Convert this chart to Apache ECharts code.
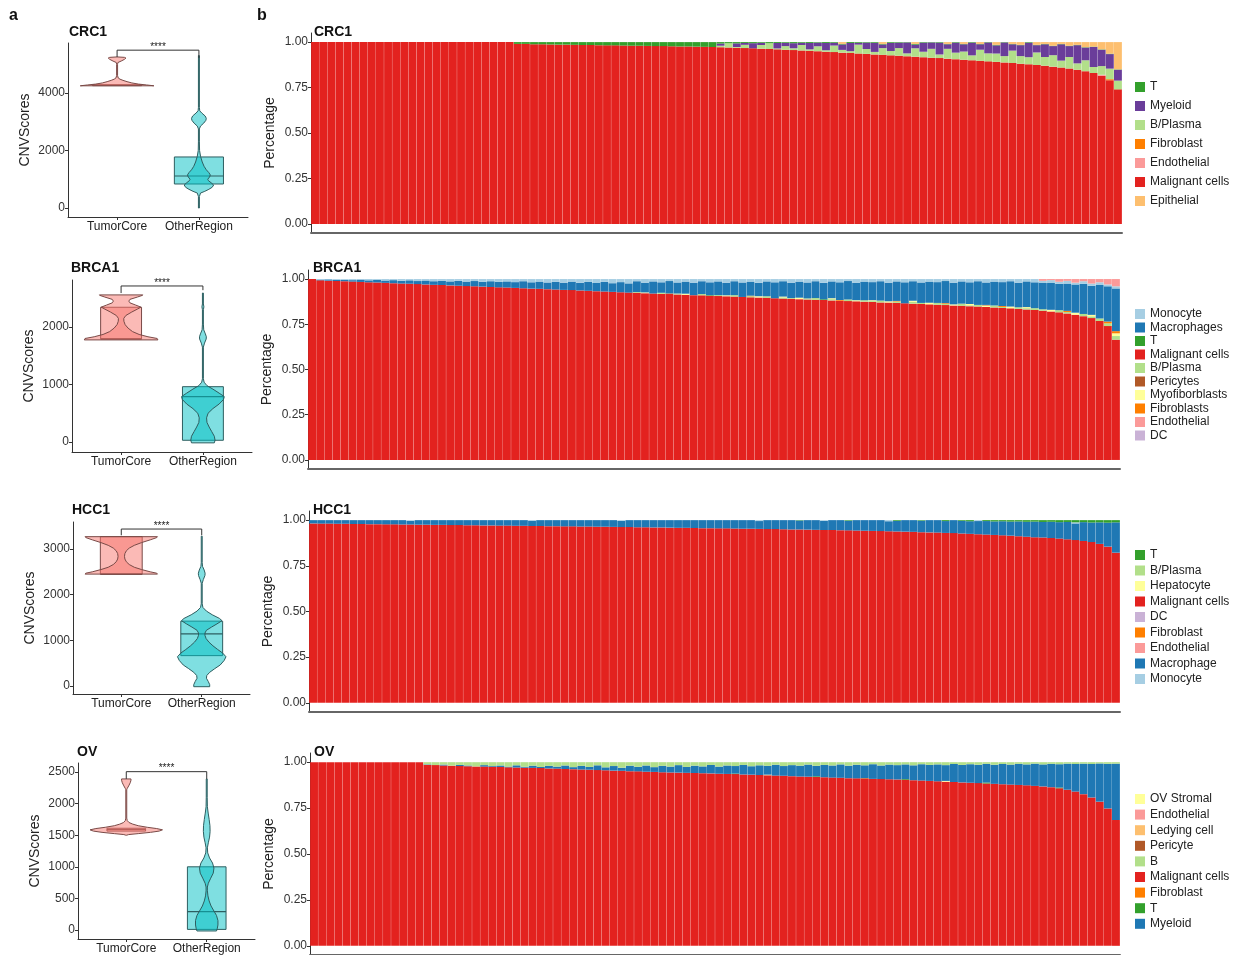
<!DOCTYPE html>
<html><head><meta charset="utf-8">
<script src="https://cdn.jsdelivr.net/npm/echarts@6/dist/echarts.min.js"></script>
<style>html,body{margin:0;padding:0;background:#fff}#c{width:1240px;height:955px}</style>
</head><body><div id="c"></div>
<script>
const FONT = '"Liberation Sans", Arial, Helvetica, sans-serif';
const groups = ['TumorCore', 'OtherRegion'];
const percentTicks = [0, 0.25, 0.5, 0.75, 1];

// ---------- panel a : violin densities [CNVScore, scaled density] ----------
const crcTumorDensity = [[4250,1],[4280,.8],[4310,.58],[4350,.4],[4395,.27],[4440,.16],[4480,.08],[4520,.033],[4600,.013],[5000,.013],[5060,.022],[5110,.11],[5170,.2],[5215,.24],[5240,.2],[5255,0]];
const crcOtherDensity = [[0,.013],[400,.013],[520,.044],[580,.16],[650,.27],[720,.36],[800,.4],[880,.33],[950,.26],[1000,.24],[1080,.29],[1150,.31],[1230,.27],[1330,.2],[1450,.14],[1600,.09],[1800,.044],[2000,.018],[2300,.013],[2750,.013],[2850,.044],[2950,.13],[3050,.19],[3120,.2],[3200,.17],[3300,.08],[3380,.022],[3500,.013],[5300,.013]];
const crcBoxStats = [[4255,4270,4290],[835,1113,1775]];
const crcBracket = [5250,5490,5220];

const brcaTumorDensity = [[1775,1],[1800,.98],[1830,.73],[1870,.49],[1920,.31],[1980,.19],[2040,.11],[2100,.076],[2150,.073],[2200,.13],[2260,.29],[2310,.44],[2345,.54],[2380,.4],[2420,.24],[2450,.21],[2480,.24],[2520,.44],[2550,.58],[2558,.59]];
const brcaOtherDensity = [[-15,.31],[30,.33],[100,.31],[180,.24],[260,.17],[340,.11],[420,.1],[500,.14],[580,.27],[660,.44],[740,.56],[790,.58],[850,.44],[920,.27],[980,.11],[1040,.033],[1100,.013],[1650,.013],[1720,.044],[1790,.089],[1830,.093],[1880,.067],[1950,.022],[2050,.013],[2300,.013],[2350,.027],[2400,.013],[2590,.013]];
const brcaBoxStats = [[1786,1800,2343],[30,790,962]];
const brcaBracket = [2590,2713,2640];

const hccTumorDensity = [[2450,1],[2470,.98],[2500,.8],[2550,.56],[2600,.36],[2660,.22],[2720,.14],[2780,.1],[2840,.089],[2900,.1],[2960,.14],[3020,.22],[3080,.36],[3140,.56],[3200,.8],[3250,.98],[3270,1]];
const hccOtherDensity = [[-15,.22],[30,.22],[100,.18],[170,.13],[230,.14],[300,.22],[380,.36],[460,.51],[560,.62],[640,.67],[720,.58],[800,.44],[880,.31],[960,.2],[1040,.12],[1110,.089],[1160,.089],[1220,.13],[1290,.27],[1360,.42],[1430,.56],[1480,.49],[1560,.29],[1640,.13],[1720,.033],[1800,.013],[2250,.013],[2330,.044],[2420,.089],[2470,.093],[2540,.067],[2620,.022],[2700,.013],[3280,.013]];
const hccBoxStats = [[2450,2450,3270],[665,1140,1420]];
const hccBracket = [3300,3437,3300];

const ovTumorDensity = [[1500,.013],[1510,.067],[1525,.33],[1545,.67],[1565,.91],[1585,1],[1605,.84],[1625,.58],[1650,.33],[1675,.18],[1700,.078],[1730,.027],[1770,.013],[2220,.013],[2240,.027],[2280,.067],[2330,.11],[2370,.13],[2390,.13]];
const ovOtherDensity = [[-15,.27],[20,.29],[80,.31],[150,.31],[230,.27],[300,.2],[380,.12],[460,.067],[540,.033],[620,.018],[680,.018],[740,.044],[820,.11],[900,.18],[980,.2],[1060,.16],[1140,.078],[1220,.027],[1300,.018],[1380,.044],[1470,.078],[1560,.093],[1650,.089],[1750,.067],[1850,.04],[1950,.018],[2100,.013],[2390,.013]];
const ovBoxStats = [[1565,1590,1610],[10,290,1000]];
const ovBracket = [2390,2505,2390];

// ---------- panel b : cell-type proportions per spot ----------
const crcMalignant = [
1,1,1,1,1,1,1,1,1,1,
1,1,1,1,1,1,1,1,1,1,
1,1,1,1,1,.99,.99,.988,.988,.987,
.986,.986,.985,.984,.984,.983,.982,.982,.981,.98,
.98,.979,.978,.978,.977,.976,.976,.975,.974,.973,
.972,.97,.969,.967,.966,.964,.962,.96,.958,.956,
.954,.952,.95,.947,.945,.942,.94,.937,.935,.932,
.93,.927,.925,.922,.92,.917,.914,.912,.909,.906,
.903,.9,.897,.894,.891,.888,.885,.881,.878,.874,
.87,.865,.86,.855,.848,.84,.83,.815,.79,.74];
const crcT = [
0,0,0,0,0,0,0,0,0,0,
0,0,0,0,0,0,0,0,0,0,
0,0,0,0,0,.01,.01,.012,.012,.013,
.014,.014,.015,.016,.016,.017,.018,.018,.019,.02,
.02,.021,.022,.022,.023,.024,.024,.025,.026,.027,
.008,.006,.007,.005,.006,.004,.006,.005,.004,.006,
.004,.005,.003,.005,.004,.003,.005,.004,.003,.004,
.003,.004,.003,.002,.004,.003,.002,.003,.002,.003,
.002,.003,.002,.002,.003,.002,.002,.002,.003,.002,
.002,.002,.002,.002,.002,.002,.002,.002,.002,.002];
const crcMyeloid = [
0,0,0,0,0,0,0,0,0,0,
0,0,0,0,0,0,0,0,0,0,
0,0,0,0,0,0,0,0,0,0,
0,0,0,0,0,0,0,0,0,0,
0,0,0,0,0,0,0,0,0,0,
.012,0,.02,.01,.028,.012,0,.03,.018,.028,
.012,.035,.02,.04,.015,.03,.045,.01,.035,.05,
.02,.045,.03,.06,.02,.05,.035,.065,.025,.055,
.04,.07,.03,.06,.045,.075,.035,.06,.08,.04,
.07,.05,.09,.06,.1,.07,.11,.09,.08,.06];
const crcBPlasma = [
0,0,0,0,0,0,0,0,0,0,
0,0,0,0,0,0,0,0,0,0,
0,0,0,0,0,0,0,0,0,0,
0,0,0,0,0,0,0,0,0,0,
0,0,0,0,0,0,0,0,0,0,
.008,.024,.004,.018,0,.02,.032,.005,.02,.01,
.03,.008,.027,.008,.036,.015,.01,.049,.027,.014,
.037,.024,.042,.016,.046,.03,.049,.02,.054,.036,
.045,.027,.061,.044,.046,.035,.068,.042,.039,.069,
.048,.063,.038,.063,.035,.06,.033,.048,.058,.048];
const crcEpithelial = [
0,0,0,0,0,0,0,0,0,0,
0,0,0,0,0,0,0,0,0,0,
0,0,0,0,0,0,0,0,0,0,
0,0,0,0,0,0,0,0,0,0,
0,0,0,0,0,0,0,0,0,0,
0,0,0,0,0,0,0,0,0,0,
0,0,0,0,0,.01,0,0,0,0,
.01,0,0,0,.01,0,0,0,.01,0,
.01,0,.01,0,.015,0,.01,.015,0,.015,
.01,.02,.01,.02,.015,.028,.025,.04,.064,.15];
const crcEndothelial = [
0,0,0,0,0,0,0,0,0,0,
0,0,0,0,0,0,0,0,0,0,
0,0,0,0,0,0,0,0,0,0,
0,0,0,0,0,0,0,0,0,0,
0,0,0,0,0,0,0,0,0,0,
0,0,0,0,0,0,0,0,0,0,
0,0,0,0,0,0,0,0,0,0,
0,0,0,0,0,0,0,0,0,0,
0,0,0,0,0,0,0,0,0,0,
0,0,0,0,0,0,0,.005,0,0];
const crcFibroblast = [
0,0,0,0,0,0,0,0,0,0,
0,0,0,0,0,0,0,0,0,0,
0,0,0,0,0,0,0,0,0,0,
0,0,0,0,0,0,0,0,0,0,
0,0,0,0,0,0,0,0,0,0,
0,0,0,0,0,0,0,0,0,0,
0,0,0,0,0,0,0,0,0,0,
0,0,0,0,0,0,0,0,0,0,
0,0,0,0,0,0,0,0,0,0,
0,0,0,0,0,0,0,0,.006,0];

const brcaMalignant = [
1,.993,.991,.989,.988,.986,.984,.982,.981,.979,
.977,.975,.974,.972,.97,.968,.967,.965,.963,.961,
.96,.958,.956,.954,.953,.951,.949,.947,.946,.944,
.942,.94,.939,.937,.935,.933,.931,.929,.927,.925,
.924,.922,.92,.918,.917,.915,.913,.911,.91,.908,
.906,.905,.903,.901,.899,.898,.896,.894,.892,.891,
.889,.887,.885,.884,.882,.88,.878,.877,.875,.873,
.871,.87,.868,.866,.864,.862,.86,.858,.856,.854,
.852,.85,.848,.846,.843,.84,.838,.835,.832,.829,
.825,.821,.816,.81,.803,.795,.784,.768,.74,.665];
const brcaMonocyte = [
0,.003,.002,.005,.004,.006,.003,.007,.005,.008,
.006,.01,.007,.011,.008,.012,.009,.013,.01,.014,
.011,.015,.012,.016,.013,.017,.012,.018,.014,.019,
.015,.02,.014,.021,.016,.022,.015,.023,.017,.024,
.012,.02,.013,.018,.011,.019,.014,.02,.012,.018,
.013,.02,.012,.019,.014,.021,.013,.018,.012,.02,
.014,.019,.012,.021,.013,.018,.011,.02,.014,.017,
.012,.02,.013,.018,.012,.019,.014,.017,.011,.02,
.013,.018,.012,.019,.014,.017,.012,.02,.013,.018,
.012,.016,.011,.015,.01,.014,.012,.015,.01,.012];
const brcaMacrophages = [
0,.004,.007,.006,.008,.008,.013,.011,.014,.013,
.017,.015,.019,.017,.022,.02,.024,.022,.027,.025,
.029,.027,.032,.03,.034,.032,.039,.035,.04,.037,
.043,.04,.047,.042,.049,.045,.054,.048,.056,.051,
.06,.054,.067,.058,.069,.061,.067,.069,.071,.071,
.076,.07,.077,.08,.078,.074,.082,.088,.085,.085,
.089,.088,.093,.091,.093,.098,.102,.097,.103,.1,
.107,.103,.108,.116,.108,.113,.117,.115,.122,.12,
.123,.12,.131,.124,.132,.132,.14,.136,.142,.143,
.145,.148,.146,.151,.156,.167,.161,.185,.195,.236];
const brcaT = [
0,0,0,0,0,0,0,0,0,0,
0,0,0,0,0,0,0,0,0,0,
0,0,0,0,0,0,0,0,0,0,
0,0,0,0,0,0,0,0,0,0,
0,0,0,0,0,0,0,0,0,.003,
0,0,0,0,0,0,0,0,0,0,
0,0,0,.004,0,0,0,0,0,0,
0,0,0,0,0,0,0,0,0,0,
0,0,0,0,0,0,0,0,0,0,
0,0,0,0,0,0,0,0,0,0];
const brcaBPlasma = [
0,0,0,0,0,0,0,0,0,0,
0,0,0,0,0,0,0,0,0,0,
0,0,0,0,0,0,0,0,0,0,
0,0,0,0,0,0,0,0,0,0,
.004,0,0,.006,0,.005,0,0,.007,0,
.005,0,.008,0,.006,0,.009,0,.007,.004,
0,.006,.01,0,.007,0,.009,0,.008,.005,
.01,0,.008,0,.011,.006,0,.01,.007,0,
.012,.005,.009,0,.011,.006,0,.009,.007,.01,
.008,0,.012,.008,0,.012,.01,.014,.015,.02];
const brcaPericytes = [
0,0,0,0,0,0,0,0,0,0,
0,0,0,0,0,0,0,0,0,0,
0,0,0,0,0,0,0,0,0,0,
0,0,0,0,0,0,0,0,0,0,
0,0,0,0,0,0,0,0,0,0,
0,0,0,0,0,0,0,0,0,0,
0,0,0,0,0,0,0,0,0,0,
0,0,0,0,0,0,0,0,0,0,
0,0,0,.003,0,0,0,0,0,0,
0,0,0,0,0,0,0,0,0,0];
const brcaMyofib = [
0,0,0,0,0,0,0,0,0,0,
0,0,0,0,0,0,0,0,0,0,
0,0,0,0,0,0,0,0,0,0,
0,0,0,0,0,0,0,0,0,0,
0,.004,0,0,0,0,.006,0,0,0,
0,.005,0,0,0,.007,0,0,.004,0,
.008,0,0,0,.005,0,0,.006,0,.005,
0,.007,0,0,.005,0,.009,0,0,.006,
0,.007,0,.008,0,0,.01,0,.006,0,
0,.009,0,0,.011,0,.008,0,0,.015];
const brcaFibroblasts = [
0,0,0,0,0,0,0,0,0,0,
0,0,0,0,0,0,0,0,0,0,
0,0,0,0,0,0,0,0,0,0,
0,0,0,0,0,0,0,0,0,0,
0,0,0,0,.003,0,0,0,0,0,
0,0,0,0,.003,0,0,0,0,0,
0,0,0,0,0,.004,0,0,0,0,
0,0,.003,0,0,0,0,0,.004,0,
0,0,0,0,0,.005,0,0,0,0,
0,0,0,.006,0,0,0,0,.01,.012];
const brcaEndothelial = [
0,0,0,0,0,0,0,0,0,0,
0,0,0,0,0,0,0,0,0,0,
0,0,0,0,0,0,0,0,0,0,
0,0,0,0,0,0,0,0,0,0,
0,0,0,0,0,0,0,0,0,0,
0,0,0,0,0,0,0,0,0,0,
0,0,0,0,0,0,0,0,0,0,
0,0,0,0,0,0,0,0,0,0,
0,0,0,0,0,0,0,0,0,0,
.01,.006,.015,.01,.02,.012,.025,.018,.03,.04];
const brcaDC = [];

const hccMalignant = [
.982,.981,.981,.98,.98,.979,.979,.978,.978,.977,
.977,.976,.976,.975,.975,.974,.974,.973,.973,.972,
.972,.971,.971,.97,.97,.969,.969,.968,.968,.967,
.967,.966,.966,.965,.965,.964,.964,.963,.962,.962,
.961,.961,.96,.96,.959,.958,.958,.957,.956,.956,
.955,.955,.954,.953,.953,.952,.951,.951,.95,.949,
.949,.948,.947,.946,.946,.945,.944,.943,.942,.941,
.94,.939,.938,.937,.936,.934,.933,.932,.93,.929,
.927,.925,.923,.921,.919,.917,.915,.912,.909,.906,
.905,.902,.899,.895,.891,.886,.88,.87,.855,.822];
const hccMacrophage = [
.018,.019,.019,.02,.02,.021,.021,.022,.022,.023,
.023,.024,.02,.025,.025,.026,.026,.027,.027,.028,
.028,.029,.029,.03,.03,.031,.031,.029,.032,.033,
.033,.034,.034,.035,.035,.036,.036,.037,.034,.038,
.039,.039,.04,.04,.041,.042,.042,.043,.044,.044,
.045,.045,.046,.047,.047,.043,.049,.049,.05,.051,
.049,.052,.053,.05,.054,.055,.053,.057,.058,.059,
.06,.055,.058,.063,.064,.063,.067,.068,.065,.071,
.069,.069,.072,.074,.074,.077,.077,.081,.082,.086,
.085,.089,.09,.095,.091,.103,.107,.118,.131,.166];
const hccMonocyte = [
0,0,0,0,0,0,0,0,0,0,
0,0,.004,0,0,0,0,0,0,0,
0,0,0,0,0,0,0,.003,0,0,
0,0,0,0,0,0,0,0,.004,0,
0,0,0,0,0,0,0,0,0,0,
0,0,0,0,0,.005,0,0,0,0,
0,0,0,.004,0,0,0,0,0,0,
0,.006,0,0,0,0,0,0,0,0,
0,0,.005,0,0,0,0,0,0,0,
0,0,0,0,.006,0,0,0,0,0];
const hccT = [
0,0,0,0,0,0,0,0,0,0,
0,0,0,0,0,0,0,0,0,0,
0,0,0,0,0,0,0,0,0,0,
0,0,0,0,0,0,0,0,0,0,
0,0,0,0,0,0,0,0,0,0,
0,0,0,0,0,0,0,0,0,0,
.002,0,0,0,0,0,.003,0,0,0,
0,0,.004,0,0,.003,0,0,.005,0,
.004,.006,0,.005,.007,.006,.008,.007,.009,.008,
.01,.009,.011,.01,.012,.011,.013,.012,.014,.012];
const hccBPlasma = [], hccHepatocyte = [], hccDC = [], hccFibroblast = [], hccEndothelial = [];

const ovMalignant = [
1,1,1,1,1,1,1,1,1,1,
1,1,1,1,.985,.984,.982,.981,.979,.978,
.977,.976,.975,.974,.972,.971,.97,.969,.968,.966,
.965,.963,.962,.96,.959,.957,.956,.954,.953,.951,
.95,.948,.947,.945,.944,.943,.942,.941,.94,.939,
.937,.936,.935,.933,.932,.93,.929,.927,.926,.924,
.922,.921,.919,.918,.916,.915,.913,.912,.91,.909,
.908,.907,.906,.904,.902,.9,.898,.896,.894,.892,
.89,.888,.886,.884,.882,.88,.878,.876,.874,.871,
.868,.864,.858,.85,.84,.826,.808,.785,.748,.685];
const ovB = [
0,0,0,0,0,0,0,0,0,0,
0,0,0,0,.012,.016,.013,.019,.015,.018,
.023,.016,.021,.018,.024,.017,.025,.019,.026,.02,
.024,.018,.027,.02,.026,.017,.028,.021,.03,.019,
.025,.018,.027,.02,.024,.016,.026,.019,.023,.015,
.024,.018,.021,.015,.022,.017,.02,.014,.021,.016,
.019,.013,.02,.015,.018,.012,.019,.014,.017,.011,
.018,.013,.016,.012,.017,.011,.015,.012,.016,.01,
.015,.011,.014,.009,.014,.01,.013,.009,.012,.008,
.012,.009,.011,.008,.01,.008,.01,.007,.009,.008];
const ovMyeloid = [
0,0,0,0,0,0,0,0,0,0,
0,0,0,0,.003,0,.005,0,.006,.004,
0,.008,.004,.008,.004,.012,.005,.012,.006,.014,
.011,.019,.011,.02,.015,.026,.016,.025,.017,.03,
.025,.034,.026,.035,.032,.041,.032,.04,.037,.046,
.039,.046,.041,.052,.046,.053,.048,.059,.053,.06,
.059,.066,.057,.067,.066,.073,.068,.074,.069,.08,
.074,.08,.078,.08,.081,.089,.087,.092,.086,.098,
.095,.101,.1,.102,.104,.11,.109,.115,.114,.121,
.12,.127,.127,.142,.15,.166,.182,.208,.243,.307];
const ovT = [
0,0,0,0,0,0,0,0,0,0,
0,0,0,0,0,0,0,0,0,0,
0,0,0,0,0,0,0,0,0,0,
0,0,0,0,0,0,0,0,0,0,
0,0,0,0,0,0,0,0,0,0,
0,0,.003,0,0,0,0,0,0,0,
0,0,.004,0,0,0,0,0,0,0,
0,0,0,.004,0,0,0,0,0,0,
0,0,0,.005,0,0,0,0,0,0,
0,0,.004,0,0,0,0,0,0,0];
const ovStromal = [
0,0,0,0,0,0,0,0,0,0,
0,0,0,0,0,0,0,0,0,0,
0,0,0,0,0,0,0,0,0,0,
0,0,0,0,0,0,0,0,0,0,
0,0,0,0,0,0,0,0,0,0,
0,0,0,0,0,0,.003,0,0,0,
0,0,0,0,0,0,0,0,0,0,
0,0,0,0,0,0,0,0,.004,0,
0,0,0,0,0,0,0,0,0,0,
0,0,0,0,0,0,0,0,0,0];
const ovPericyte = [
0,0,0,0,0,0,0,0,0,0,
0,0,0,0,0,0,0,0,0,0,
0,0,0,0,0,0,0,0,0,0,
0,0,0,0,0,0,0,0,0,0,
0,0,0,0,0,0,0,0,0,0,
0,0,0,0,0,0,0,0,0,0,
0,0,0,0,0,0,0,0,.004,0,
0,0,0,0,0,0,0,0,0,0,
0,0,0,0,0,0,0,0,0,0,
0,0,0,0,0,0,0,0,0,0];
const ovEndothelial = [], ovLedying = [], ovFibroblast = [];

const spots = crcMalignant.map((v, i) => 'spot' + (i + 1));

// legend orders (as in figure)
const crcLegend = ['T','Myeloid','B/Plasma','Fibroblast','Endothelial','Malignant cells','Epithelial'];
const brcaLegend = ['Monocyte','Macrophages','T','Malignant cells','B/Plasma','Pericytes','Myofiborblasts','Fibroblasts','Endothelial','DC'];
const hccLegend = ['T','B/Plasma','Hepatocyte','Malignant cells','DC','Fibroblast','Endothelial','Macrophage','Monocyte'];
const ovLegend = ['OV Stromal','Endothelial','Ledying cell','Pericyte','B','Malignant cells','Fibroblast','T','Myeloid'];

// ---------- styles ----------
const RED = '#E3221F';
const COLORS = {
  crc: {'Malignant cells':RED,'T':'#33A02C','Myeloid':'#6A3D9A','B/Plasma':'#B2DF8A','Fibroblast':'#FF7F00','Endothelial':'#FB9A99','Epithelial':'#FDBF6F'},
  brca: {'Malignant cells':RED,'Monocyte':'#A6CEE3','Macrophages':'#1F78B4','T':'#33A02C','B/Plasma':'#B2DF8A','Pericytes':'#B15928','Myofiborblasts':'#FFFF99','Fibroblasts':'#FF7F00','Endothelial':'#FB9A99','DC':'#CAB2D6'},
  hcc: {'Malignant cells':RED,'T':'#33A02C','B/Plasma':'#B2DF8A','Hepatocyte':'#FFFF99','DC':'#CAB2D6','Fibroblast':'#FF7F00','Endothelial':'#FB9A99','Macrophage':'#1F78B4','Monocyte':'#A6CEE3'},
  ov: {'Malignant cells':RED,'OV Stromal':'#FFFF99','Endothelial':'#FB9A99','Ledying cell':'#FDBF6F','Pericyte':'#B15928','B':'#B2DF8A','Fibroblast':'#FF7F00','T':'#33A02C','Myeloid':'#1F78B4'}
};
const FILLS = ['rgba(248,118,109,0.5)', 'rgba(0,191,196,0.5)'];
const STROKES = ['#7a4a47', '#2d5e60'];
const VIOLIN_HALF = 0.45;

function makeViolin(densities, boxes, boxHalf) {
  return function (params, api) {
    const i = params.dataIndex, c = i + 1;
    const dens = densities[i], b = boxes[i];
    const right = dens.map(d => api.coord([c + d[1] * VIOLIN_HALF, d[0]]));
    const left = dens.slice().reverse().map(d => api.coord([c - d[1] * VIOLIN_HALF, d[0]]));
    const tl = api.coord([c - boxHalf, b[2]]), br = api.coord([c + boxHalf, b[0]]);
    const ml = api.coord([c - boxHalf, b[1]]), mr = api.coord([c + boxHalf, b[1]]);
    return {type: 'group', children: [
      {type: 'rect', shape: {x: tl[0], y: tl[1], width: br[0] - tl[0], height: br[1] - tl[1]}, style: {fill: FILLS[i], stroke: STROKES[i], lineWidth: 1}},
      {type: 'line', shape: {x1: ml[0], y1: ml[1], x2: mr[0], y2: mr[1]}, style: {stroke: STROKES[i], lineWidth: 1.2}},
      {type: 'polygon', shape: {points: right.concat(left)}, style: {fill: FILLS[i], stroke: STROKES[i], lineWidth: 1, lineJoin: 'round'}}
    ]};
  };
}
function makeBracket(br) {
  return function (params, api) {
    const a = api.coord([1, br[0]]), b = api.coord([1, br[1]]), c = api.coord([2, br[1]]), d = api.coord([2, br[2]]);
    return {type: 'group', children: [
      {type: 'polyline', shape: {points: [a, b, c, d]}, style: {stroke: '#333', lineWidth: 1, fill: null}},
      {type: 'text', x: (b[0] + c[0]) / 2, y: b[1] - 3, style: {text: '****', align: 'center', verticalAlign: 'middle', fontSize: 10, fill: '#222', fontFamily: FONT}}
    ]};
  };
}

const violinGrids = [
  {left: 68, top: 43, width: 180, height: 174, min: -313, max: 5739, ticks: [0, 2000, 4000], dens: [crcTumorDensity, crcOtherDensity], box: crcBoxStats, br: crcBracket, boxHalf: 0.3},
  {left: 72, top: 280, width: 180, height: 172, min: -174, max: 2817, ticks: [0, 1000, 2000], dens: [brcaTumorDensity, brcaOtherDensity], box: brcaBoxStats, br: brcaBracket, boxHalf: 0.25},
  {left: 73, top: 522, width: 177, height: 172, min: -175, max: 3591, ticks: [0, 1000, 2000, 3000], dens: [hccTumorDensity, hccOtherDensity], box: hccBoxStats, br: hccBracket, boxHalf: 0.26},
  {left: 78, top: 763, width: 177, height: 176, min: -142, max: 2642, ticks: [0, 500, 1000, 1500, 2000, 2500], dens: [ovTumorDensity, ovOtherDensity], box: ovBoxStats, br: ovBracket, boxHalf: 0.24}
];
const barGrids = [
  {left: 311, top: 33, width: 811, height: 200, key: 'crc', legend: crcLegend, legendTop: 76, gap: 7,
   order: ['Malignant cells','Endothelial','Fibroblast','B/Plasma','Myeloid','T','Epithelial'],
   data: {'Malignant cells': crcMalignant, 'Endothelial': crcEndothelial, 'Fibroblast': crcFibroblast, 'B/Plasma': crcBPlasma, 'Myeloid': crcMyeloid, 'T': crcT, 'Epithelial': crcEpithelial}},
  {left: 308, top: 270, width: 812, height: 199, key: 'brca', legend: brcaLegend, legendTop: 303, gap: 1.5,
   order: ['Malignant cells','B/Plasma','Myofiborblasts','Fibroblasts','Pericytes','DC','T','Macrophages','Monocyte','Endothelial'],
   data: {'Malignant cells': brcaMalignant, 'B/Plasma': brcaBPlasma, 'Myofiborblasts': brcaMyofib, 'Fibroblasts': brcaFibroblasts, 'Pericytes': brcaPericytes, 'DC': brcaDC, 'T': brcaT, 'Macrophages': brcaMacrophages, 'Monocyte': brcaMonocyte, 'Endothelial': brcaEndothelial}},
  {left: 309, top: 511, width: 811, height: 201, key: 'hcc', legend: hccLegend, legendTop: 544, gap: 3.5,
   order: ['Malignant cells','B/Plasma','Hepatocyte','DC','Fibroblast','Endothelial','Macrophage','Monocyte','T'],
   data: {'Malignant cells': hccMalignant, 'B/Plasma': hccBPlasma, 'Hepatocyte': hccHepatocyte, 'DC': hccDC, 'Fibroblast': hccFibroblast, 'Endothelial': hccEndothelial, 'Macrophage': hccMacrophage, 'Monocyte': hccMonocyte, 'T': hccT}},
  {left: 310, top: 753, width: 810, height: 202, key: 'ov', legend: ovLegend, legendTop: 788, gap: 3.6,
   order: ['Malignant cells','Fibroblast','Endothelial','Ledying cell','Pericyte','OV Stromal','T','Myeloid','B'],
   data: {'Malignant cells': ovMalignant, 'Fibroblast': ovFibroblast, 'Endothelial': ovEndothelial, 'Ledying cell': ovLedying, 'Pericyte': ovPericyte, 'OV Stromal': ovStromal, 'T': ovT, 'Myeloid': ovMyeloid, 'B': ovB}}
];

const grid = [], xAxis = [], yAxis = [], series = [], legend = [];
violinGrids.forEach((v, r) => {
  const g = 2 * r;
  const b = barGrids[r];
  grid[g] = {left: v.left, top: v.top, width: v.width, height: v.height, outerBoundsMode: 'none'};
  grid[g + 1] = {left: b.left, top: b.top, width: b.width, height: b.height, outerBoundsMode: 'none'};
  xAxis[g] = {type: 'value', gridIndex: g, min: 0.4, max: 2.6, splitLine: {show: false},
    axisLine: {show: true, onZero: false, lineStyle: {color: '#333', width: 1}},
    axisTick: {show: true, length: 3, customValues: [1, 2], lineStyle: {color: '#333'}},
    axisLabel: {customValues: [1, 2], formatter: val => groups[Math.round(val) - 1], fontSize: 12, color: '#222', margin: 4, fontFamily: FONT}};
  yAxis[g] = {type: 'value', gridIndex: g, min: v.min, max: v.max, splitLine: {show: false},
    axisLine: {show: true, onZero: false, lineStyle: {color: '#333', width: 1}},
    axisTick: {show: true, length: 3, customValues: v.ticks, lineStyle: {color: '#333'}},
    axisLabel: {customValues: v.ticks, formatter: val => String(Math.round(val)), fontSize: 12, color: '#333', margin: 3, fontFamily: FONT},
    name: 'CNVScores', nameLocation: 'middle', nameGap: 36, nameMoveOverlap: false,
    nameTextStyle: {fontSize: 14, color: '#222', fontFamily: FONT}};
  xAxis[g + 1] = {type: 'category', gridIndex: g + 1, data: spots,
    axisLine: {show: true, onZero: false, lineStyle: {color: '#666', width: 2}},
    axisTick: {show: false}, axisLabel: {show: false}, splitLine: {show: false}};
  yAxis[g + 1] = {type: 'value', gridIndex: g + 1, min: -0.05, max: 1.05, splitLine: {show: false},
    axisLine: {show: true, onZero: false, lineStyle: {color: '#333', width: 1}},
    axisTick: {show: true, length: 3, customValues: percentTicks, lineStyle: {color: '#333'}},
    axisLabel: {customValues: percentTicks, formatter: val => val.toFixed(2), fontSize: 12, color: '#333', margin: 3, fontFamily: FONT},
    name: 'Percentage', nameLocation: 'middle', nameGap: 34, nameMoveOverlap: false,
    nameTextStyle: {fontSize: 14, color: '#222', fontFamily: FONT}};

  series.push({type: 'custom', xAxisIndex: g, yAxisIndex: g, data: [[1, 0], [2, 0]], clip: false, silent: true,
    renderItem: makeViolin(v.dens, v.box, v.boxHalf), animation: false});
  series.push({type: 'custom', xAxisIndex: g, yAxisIndex: g, data: [[1.5, v.br[1]]], clip: false, silent: true,
    renderItem: makeBracket(v.br), animation: false});

  b.order.forEach(n => {
    series.push({name: b.key + '|' + n, type: 'bar', stack: b.key, xAxisIndex: g + 1, yAxisIndex: g + 1,
      data: b.data[n], itemStyle: {color: COLORS[b.key][n]}, barCategoryGap: '3%', silent: true, animation: false});
  });
  legend.push({orient: 'vertical', left: 1130, top: b.legendTop, itemWidth: 10, itemHeight: 10, itemGap: b.gap,
    icon: 'rect', selectedMode: false, data: b.legend.map(n => b.key + '|' + n),
    formatter: n => n.split('|')[1], textStyle: {fontSize: 12, lineHeight: 12, color: '#222', fontFamily: FONT}});
});

const titleStyle = {fontSize: 14, fontWeight: 'bold', color: '#111', fontFamily: FONT};
const title = [
  {text: 'a', left: 9, top: 8, textStyle: {fontSize: 16, fontWeight: 'bold', color: '#111', fontFamily: FONT}},
  {text: 'b', left: 257, top: 8, textStyle: {fontSize: 16, fontWeight: 'bold', color: '#111', fontFamily: FONT}},
  {text: 'CRC1', left: 69, top: 25, textStyle: titleStyle},
  {text: 'CRC1', left: 314, top: 25, textStyle: titleStyle},
  {text: 'BRCA1', left: 71, top: 261, textStyle: titleStyle},
  {text: 'BRCA1', left: 313, top: 261, textStyle: titleStyle},
  {text: 'HCC1', left: 72, top: 503, textStyle: titleStyle},
  {text: 'HCC1', left: 313, top: 503, textStyle: titleStyle},
  {text: 'OV', left: 77, top: 745, textStyle: titleStyle},
  {text: 'OV', left: 314, top: 745, textStyle: titleStyle}
].map(t => Object.assign({padding: 0}, t));

const chart = echarts.init(document.getElementById('c'), null, {renderer: 'canvas'});
chart.setOption({
  backgroundColor: '#fff',
  animation: false,
  textStyle: {fontFamily: FONT},
  title, grid, xAxis, yAxis, legend, series
});
</script></body></html>
